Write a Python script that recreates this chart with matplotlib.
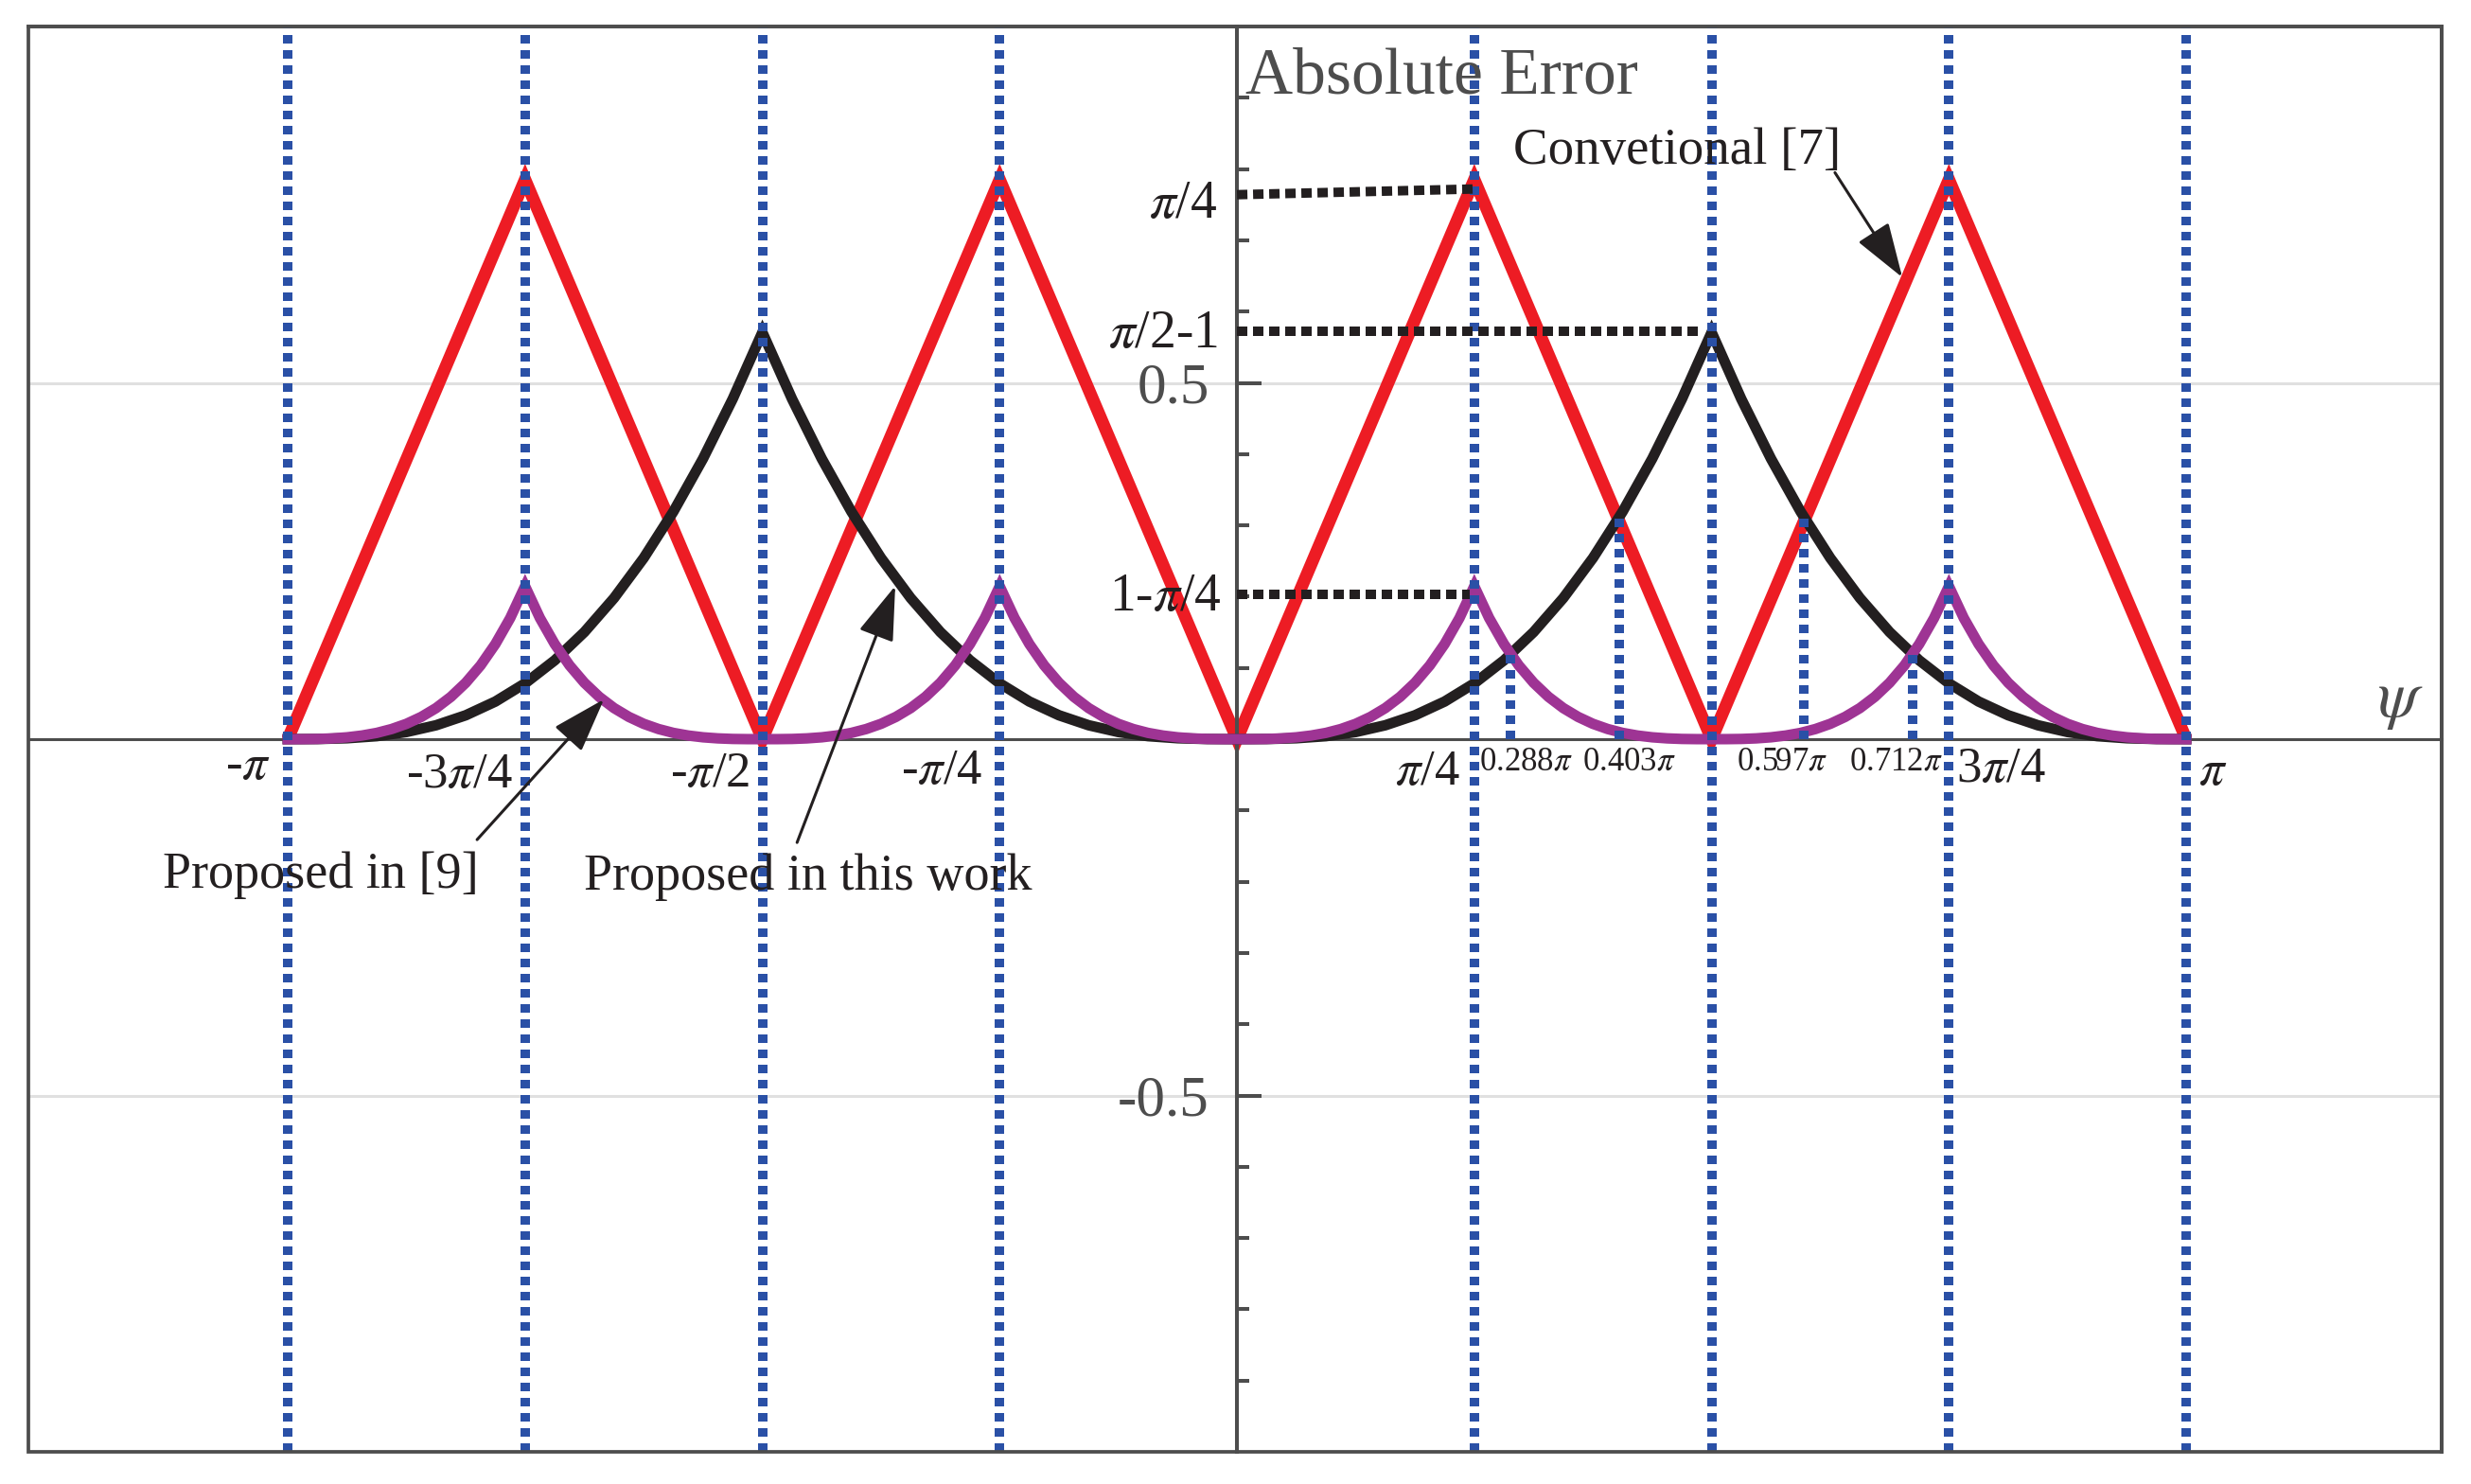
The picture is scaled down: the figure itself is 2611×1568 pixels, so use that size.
import numpy as np
import matplotlib
matplotlib.use("Agg")
import matplotlib.pyplot as plt
from matplotlib.patches import Rectangle
from matplotlib.ticker import FixedLocator

plt.rcParams['font.family'] = ['Liberation Serif', 'DejaVu Serif']
plt.rcParams['mathtext.fontset'] = 'stix'

PI = np.pi

# ---------------- data (psi in units of pi) ----------------
# Conventional [7]: piecewise-linear error, vertices
conv_knots = [-1, -0.75, -0.5, -0.25, 0, 0.25, 0.5, 0.75, 1]
conv_err = [0, 0.785, 0, 0.785, 0, 0.785, 0, 0.785, 0]

# Proposed in this work: rising half-period on [0, pi/2] (step pi/32)
work_half_err = [0.0, 0.0002, 0.0013, 0.0042, 0.0100, 0.0195, 0.0335, 0.0528,
                 0.0783, 0.1106, 0.1503, 0.1980, 0.2542, 0.3193, 0.3937,
                 0.4774, 0.5708]
work_half_len = 0.5

# Proposed in [9]: rising half-period on [0, pi/4] (step pi/64)
ref9_half_err = [0.0, 0.00004, 0.0003, 0.0011, 0.0026, 0.0051, 0.0088, 0.0142,
                 0.0215, 0.0312, 0.0436, 0.0594, 0.0791, 0.1035, 0.1335,
                 0.1700, 0.2146]
ref9_half_len = 0.25

# blue reference lines
guide_x = [-1, -0.75, -0.5, -0.25, 0.25, 0.5, 0.75, 1]
cross_x = [0.288, 0.403, 0.597, 0.712]
cross_err = [0.119, 0.31, 0.31, 0.119]

# black dotted level lines: start level, end level, end position (pi units)
level_y0 = [0.764, 0.573, 0.203]
level_y1 = [0.772, 0.573, 0.203]
level_end = [0.25, 0.49, 0.245]

# labels
xlab_text = ["-$\\pi$", "-3$\\pi$/4", "-$\\pi$/2", "-$\\pi$/4", "$\\pi$/4", "3$\\pi$/4", "$\\pi$"]
xlab_x = [-3.273, -2.574, -1.744, -0.977, 0.63, 2.53, 3.23]
xlab_y = [-0.056, -0.068, -0.066, -0.062, -0.064, -0.060, -0.064]
small_text = ["0.288$\\pi$", "0.403$\\pi$", "0.597$\\pi$", "0.712$\\pi$"]
small_x = [0.955, 1.297, 1.805, 2.18]
ylab_text = ["$\\pi$/4", "$\\pi$/2-1", "1-$\\pi$/4"]
ylab_y = [0.732, 0.55, 0.181]
ylab_x = [-0.066, -0.063, -0.053]

# ---------------- colours ----------------
RED = "#ED1C24"
BLACK = "#231F20"
PURPLE = "#9E3494"
BLUE = "#2A50A6"
GREY = "#4D4D4D"


def build(half_vals, L):
    vals = np.asarray(half_vals, dtype=float)
    frac = np.linspace(0.0, 1.0, len(vals))
    xs, ys = [], []
    nseg = int(round(2.0 / L))
    for i in range(nseg):
        x0 = -1.0 + i * L
        sx = x0 + frac * L
        sy = vals if i % 2 == 0 else vals[::-1]
        if i > 0:
            sx, sy = sx[1:], sy[1:]
        xs.append(sx)
        ys.append(sy)
    return np.concatenate(xs) * PI, np.concatenate(ys)


W, H = 2611, 1568
fig = plt.figure(figsize=(W / 100, H / 100), dpi=100)
ax = fig.add_axes([30 / W, 1 - 1534 / H, (2580 - 30) / W, (1534 - 28) / H])
ax.set_xlim(-4.0, 3.987)
ax.set_ylim(-1.0, 1.0)

# spines: left/bottom act as the axes through the origin
ax.spines['left'].set_position(('data', 0))
ax.spines['bottom'].set_position(('data', 0))
ax.spines['left'].set_color(GREY)
ax.spines['left'].set_linewidth(2.9)
ax.spines['bottom'].set_color(GREY)
ax.spines['bottom'].set_linewidth(2.2)
for s in ['top', 'right']:
    ax.spines[s].set_color(GREY)
    ax.spines[s].set_linewidth(2.7)
ax.add_patch(Rectangle((0, 0), 1, 1, transform=ax.transAxes, fill=False,
                       edgecolor=GREY, lw=2.7, zorder=10, clip_on=False))

ax.set_xticks([])
ax.yaxis.set_major_locator(FixedLocator([-0.5, 0.5]))
ax.set_yticklabels(['-0.5', '0.5'])
ax.yaxis.set_minor_locator(FixedLocator([-0.9, -0.8, -0.7, -0.6, -0.4, -0.3, -0.2, -0.1,
                                         0.1, 0.2, 0.3, 0.4, 0.6, 0.7, 0.8, 0.9]))
ax.tick_params(axis='y', which='major', direction='in', length=18.7, width=2.9,
               color=GREY, labelsize=44, labelcolor=GREY, pad=21)
ax.tick_params(axis='y', which='minor', direction='in', length=9.4, width=2.9,
               color=GREY)
ax.yaxis.grid(True, which='major', color='#E0E0E0', lw=2.2)
ax.set_axisbelow(True)

# curves
ax.plot(np.asarray(conv_knots) * PI, conv_err, color=RED, lw=9.5, zorder=2,
        solid_joinstyle='miter', solid_capstyle='butt')
bx, by = build(work_half_err, work_half_len)
ax.plot(bx, by, color=BLACK, lw=8.0, zorder=3, solid_joinstyle='miter')
px, py = build(ref9_half_err, ref9_half_len)
ax.plot(px, py, color=PURPLE, lw=8.0, zorder=4, solid_joinstyle='miter')

# blue dotted guides
blue_ls = (0, (0.9, 0.7))
for gx in guide_x:
    ax.axvline(gx * PI, color=BLUE, lw=7.2, ls=blue_ls, dash_capstyle='butt', zorder=5)
for cx, cy in zip(cross_x, cross_err):
    ax.plot([cx * PI, cx * PI], [0, cy], color=BLUE, lw=7.2, ls=blue_ls,
            dash_capstyle='butt', zorder=5)

# black dotted level lines
for y0, y1, le in zip(level_y0, level_y1, level_end):
    ax.plot([0, le * PI], [y0, y1], color=BLACK, lw=7.2, ls=(0, (1.1, 0.6)),
            dash_capstyle='butt', zorder=6)

# texts
ax.text(0.028, 0.907, "Absolute Error", fontsize=50, color=GREY, ha='left',
        va='baseline', zorder=8)
ax.text(0.915, 0.807, "Convetional [7]", fontsize=39.5, color=BLACK, ha='left',
        va='baseline', zorder=8)
ax.text(-3.555, -0.208, "Proposed in [9]", fontsize=39, color=BLACK, ha='left',
        va='baseline', zorder=8)
ax.text(-2.161, -0.211, "Proposed in this work", fontsize=39, color=BLACK,
        ha='left', va='baseline', zorder=8)
ax.text(3.849, 0.053, "$\\psi$", fontsize=50, color=GREY, ha='center',
        va='center', zorder=8)

for t, x, y in zip(xlab_text, xlab_x, xlab_y):
    ax.text(x, y, t, fontsize=38, color=BLACK, ha='center', va='baseline', zorder=8)
for t, x in zip(small_text, small_x):
    ax.text(x, -0.0425, t, fontsize=25, color=BLACK, ha='center', va='baseline', zorder=8)
for t, x, y in zip(ylab_text, ylab_x, ylab_y):
    ax.text(x, y, t, fontsize=40, color=BLACK, ha='right', va='baseline', zorder=8)

# arrows
arrow_kw = dict(arrowstyle='-|>,head_length=1.5,head_width=0.5', color=BLACK,
                lw=2.2, mutation_scale=24, shrinkA=0, shrinkB=0)
ax.annotate('', xy=(2.202, 0.648), xytext=(1.979, 0.795), arrowprops=arrow_kw, zorder=9)
ax.annotate('', xy=(-2.095, 0.056), xytext=(-2.515, -0.141), arrowprops=arrow_kw, zorder=9)
ax.annotate('', xy=(-1.131, 0.215), xytext=(-1.456, -0.145), arrowprops=arrow_kw, zorder=9)

fig.savefig("out.png", dpi=100, facecolor='white')
